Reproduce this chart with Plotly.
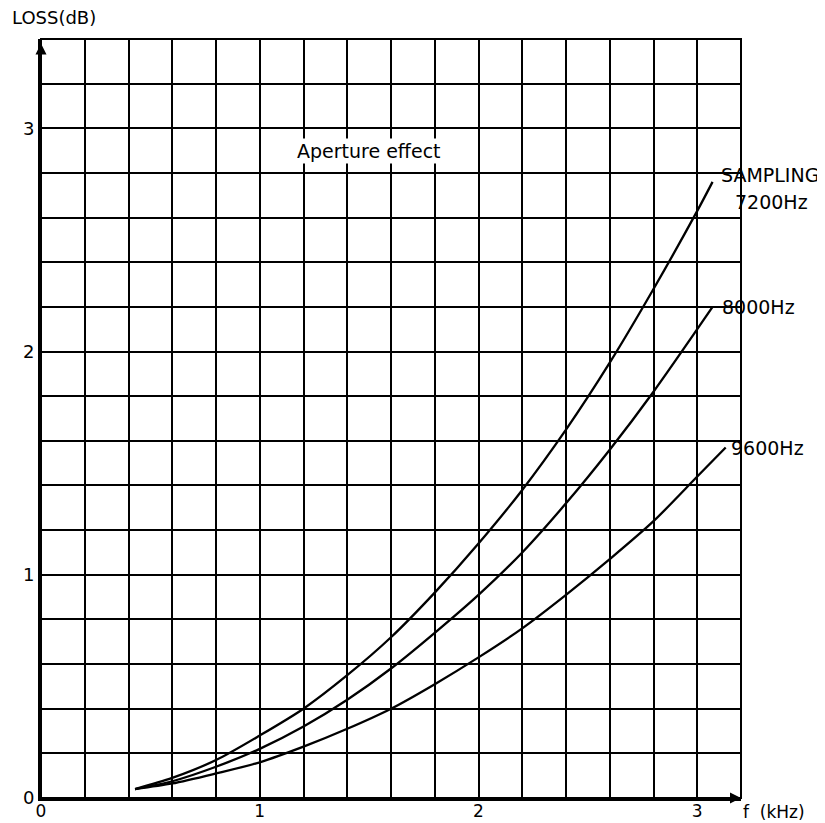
import plotly.graph_objects as go

# ---- data ----
freq_7200 = [0.43, 0.6, 0.8, 1.0, 1.2, 1.4, 1.6, 1.8, 2.0, 2.2, 2.4, 2.6, 2.8, 3.0, 3.07]
loss_7200 = [0.04, 0.09, 0.17, 0.28, 0.40, 0.55, 0.72, 0.92, 1.14, 1.38, 1.65, 1.95, 2.28, 2.63, 2.76]

freq_8000 = [0.43, 0.6, 0.8, 1.0, 1.2, 1.4, 1.6, 1.8, 2.0, 2.2, 2.4, 2.6, 2.8, 3.0, 3.07]
loss_8000 = [0.04, 0.075, 0.14, 0.22, 0.32, 0.44, 0.58, 0.74, 0.91, 1.10, 1.32, 1.56, 1.82, 2.10, 2.20]

freq_9600 = [0.43, 0.6, 0.8, 1.0, 1.2, 1.4, 1.6, 1.8, 2.0, 2.2, 2.4, 2.6, 2.8, 3.0, 3.13]
loss_9600 = [0.04, 0.065, 0.11, 0.16, 0.23, 0.31, 0.40, 0.51, 0.63, 0.76, 0.91, 1.07, 1.24, 1.44, 1.57]

x_tick_vals = [0, 1, 2, 3]
x_tick_text = ["0", "1", "2", "3"]
y_tick_vals = [0, 1, 2, 3]
y_tick_text = ["0", "1", "2", "3"]

FONT = "DejaVu Sans, Liberation Sans, Arial, sans-serif"

fig = go.Figure()
for fx, fy in [(freq_7200, loss_7200), (freq_8000, loss_8000), (freq_9600, loss_9600)]:
    fig.add_trace(go.Scatter(x=fx, y=fy, mode="lines",
                             line=dict(color="black", width=2.3, shape="spline", smoothing=0.8),
                             showlegend=False, hoverinfo="skip", cliponaxis=False))

axis_common = dict(showgrid=True, gridcolor="black", gridwidth=2, zeroline=False,
                   showline=True, linecolor="black", linewidth=3, mirror=False,
                   automargin=False, ticks="")

fig.update_xaxes(range=[0, 3.2], tickmode="array", tickvals=x_tick_vals, ticktext=x_tick_text,
                 tickfont=dict(family=FONT, size=17, color="black"), ticklabelstandoff=-4,
                 minor=dict(tickmode="linear", tick0=0, dtick=0.2, showgrid=True,
                            gridcolor="black", gridwidth=2, ticks=""),
                 **axis_common)
fig.update_yaxes(range=[0, 3.4], tickmode="array", tickvals=y_tick_vals, ticktext=y_tick_text,
                 tickfont=dict(family=FONT, size=18, color="black"),
                 minor=dict(tickmode="linear", tick0=0, dtick=0.2, showgrid=True,
                            gridcolor="black", gridwidth=2, ticks=""),
                 **axis_common)

# top & right borders
fig.add_shape(type="rect", xref="paper", yref="paper", x0=0, y0=0, x1=1, y1=1,
              line=dict(color="black", width=2), layer="above")

annots = [
    dict(x=3.10, y=2.79, text="SAMPLING", xanchor="left"),
    dict(x=3.165, y=2.67, text="7200Hz", xanchor="left"),
    dict(x=3.105, y=2.20, text="8000Hz", xanchor="left"),
    dict(x=3.146, y=1.57, text="9600Hz", xanchor="left"),
    dict(x=1.50, y=2.90, text="Aperture effect", xanchor="center", bgcolor="white"),
]
for a in annots:
    fig.add_annotation(xref="x", yref="y", showarrow=False, yanchor="middle",
                       font=dict(family=FONT, size=19, color="black"), **a)

fig.add_annotation(xref="paper", yref="paper", x=-0.045, y=1.0, yshift=22, xanchor="left", yanchor="middle",
                   text="LOSS(dB)", showarrow=False, font=dict(family=FONT, size=18, color="black"))
fig.add_annotation(xref="paper", yref="paper", x=1.0, y=0, xshift=0, yshift=-14, xanchor="left", yanchor="middle",
                   text="f&nbsp;&nbsp;(kHz)", showarrow=False, font=dict(family=FONT, size=17, color="black"))

# axis arrows
fig.add_annotation(xref="x", yref="y", x=0, y=3.38, ax=0, ay=20, axref="pixel", ayref="pixel",
                   showarrow=True, arrowhead=2, arrowsize=1.1, arrowwidth=2, arrowcolor="black", text="")
fig.add_annotation(xref="x", yref="y", x=3.2, y=0, ax=-20, ay=0, axref="pixel", ayref="pixel",
                   showarrow=True, arrowhead=2, arrowsize=1.1, arrowwidth=2, arrowcolor="black", text="")

fig.update_layout(width=817, height=815, margin=dict(l=33, r=84, t=31, b=25),
                  paper_bgcolor="white", plot_bgcolor="white",
                  font=dict(family=FONT, color="black"))

fig.write_html("out.html")
